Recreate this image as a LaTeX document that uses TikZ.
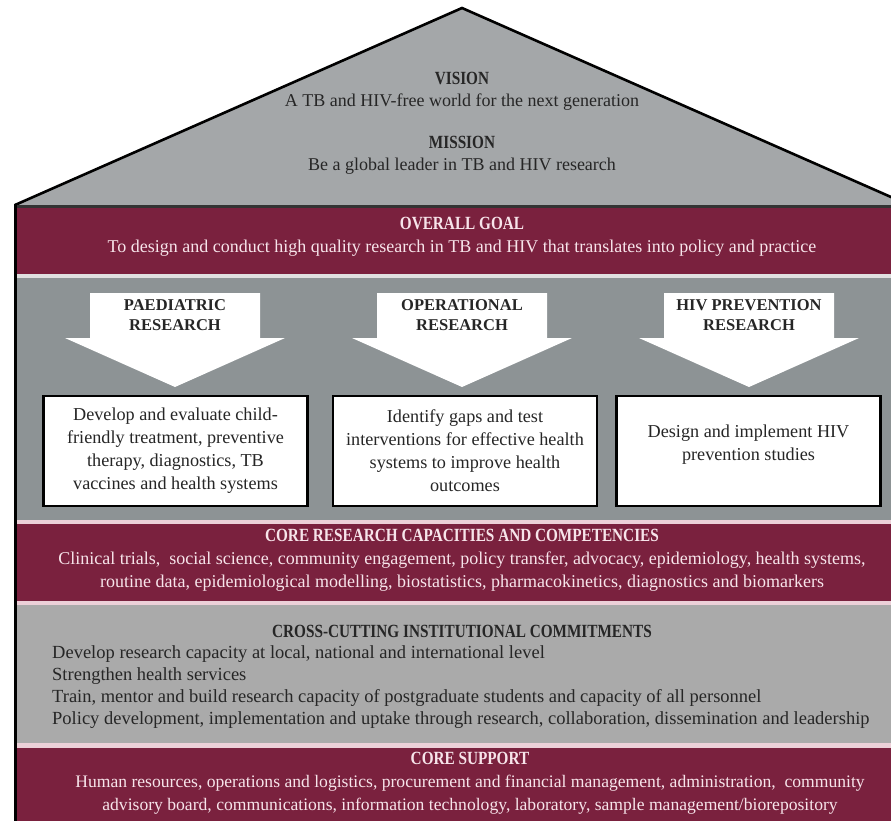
\documentclass[tikz,border=0pt]{standalone}
\usepackage{fontspec}
\setmainfont{Liberation Serif}
\newfontfamily\narrowserif[FakeStretch=0.82]{Liberation Serif}
\usetikzlibrary{positioning}

\definecolor{maroon}{RGB}{122,33,62}
\definecolor{roofgray}{RGB}{164,167,169}
\definecolor{pillargray}{RGB}{141,147,149}
\definecolor{basegray}{RGB}{170,170,170}
\definecolor{pinkline}{RGB}{236,208,216}
\definecolor{pinktext}{RGB}{247,228,234}
\definecolor{ink}{RGB}{38,38,38}

\newcommand\headfont{\narrowserif\bfseries\fontsize{18.6}{22}\selectfont}

\begin{document}
\begin{tikzpicture}[
		x=1pt, y=-1pt
		,heading/.style={font=\headfont}
		,bartext/.style={align=center, text=pinktext, inner sep=0pt, font=\fontsize{18}{23}\selectfont}
		,rooftext/.style={align=center, text=ink, inner sep=0pt, font=\fontsize{18}{22}\selectfont}
		,arrowlabel/.style={align=center, text=ink, inner sep=0pt, font=\bfseries\fontsize{16.5}{20}\selectfont}
		,aimbox/.style={draw=black, fill=white, line width=2.6pt, minimum width=264pt, minimum height=110pt, align=center, text=ink, font=\fontsize{18.2}{23}\selectfont}
		,pinkrule/.style={fill=pinkline}
	]
		\useasboundingbox (0,0) rectangle (891,821);
		\clip (0,0) rectangle (891,821);

		% roof
		\filldraw[fill=roofgray, draw=black, line width=2.6pt, line join=miter] (15,205) -- (462,8) -- (925,212);
		\node[rooftext] (vision) at (462,91) {{\headfont VISION}\\A TB and HIV-free world for the next generation};
		\node[rooftext] (mission) at (462,155) {{\headfont MISSION}\\Be a global leader in TB and HIV research};

		% body of the house
		\fill[pillargray] (15,205) rectangle (895,821);
		\fill[maroon] (15,207) rectangle (895,274);
		\draw[line width=3pt, black!80] (15,207) -- (895,207);
		\fill[white!88!black] (15,274) rectangle (895,277.5);
		\node[bartext] (goal) at (462,237) {{\headfont OVERALL GOAL}\\To design and conduct high quality research in TB and HIV that translates into policy and practice};

		% research streams
		\foreach \cx/\name/\label in {175/paed/{PAEDIATRIC\\RESEARCH}, 462/oper/{OPERATIONAL\\RESEARCH}, 749/hivprev/{HIV PREVENTION\\RESEARCH}}{
			\fill[white] (\cx-85,293) -- (\cx+85,293) -- (\cx+85,338) -- (\cx+110,338) -- (\cx,387) -- (\cx-110,338) -- (\cx-85,338) -- cycle;
			\node[arrowlabel] (\name) at (\cx,315) {\label};
		}

		\node[aimbox] (paedbox) at (175.5,451) {Develop and evaluate child-\\friendly treatment, preventive\\therapy, diagnostics, TB\\vaccines and health systems};
		\node[aimbox] (operbox) at (465,451) {Identify gaps and test\\interventions for effective health\\systems to improve health\\outcomes};
		\node[aimbox] (hivbox) at (748.5,451) {Design and implement HIV\\prevention studies\\[-6pt]\mbox{}};

		% lower bands
		\fill[pinkrule] (15,520) rectangle (895,524);
		\fill[maroon] (15,524) rectangle (895,601);
		\fill[pinkrule] (15,601) rectangle (895,605);
		\fill[basegray] (15,605) rectangle (895,743);
		\fill[pinkrule] (15,743) rectangle (895,748);
		\fill[maroon] (15,748) rectangle (895,821);
		\draw[line width=3pt] (15,204) -- (15,821);

		\node[bartext] (core) at (462,560) {{\headfont CORE RESEARCH CAPACITIES AND COMPETENCIES}\\Clinical trials,\ \ social science, community engagement, policy transfer, advocacy, epidemiology, health systems,\\routine data, epidemiological modelling, biostatistics, pharmacokinetics, diagnostics and biomarkers};

		\node[heading, text=ink, inner sep=0pt] (cross) at (462,631) {CROSS-CUTTING INSTITUTIONAL COMMITMENTS};
		\node[rooftext, align=left, anchor=west, font=\fontsize{18.5}{22}\selectfont] (crosslist) at (52,687) {Develop research capacity at local, national and international level\\Strengthen health services\\Train, mentor and build research capacity of postgraduate students and capacity of all personnel\\Policy development, implementation and uptake through research, collaboration, dissemination and leadership};

		\node[bartext, font=\fontsize{17.6}{23}\selectfont] (support) at (470,783) {{\headfont CORE SUPPORT}\\Human resources, operations and logistics, procurement and financial management, administration,\ \ community\\advisory board, communications, information technology, laboratory, sample management/biorepository};
	\end{tikzpicture}
\end{document}
